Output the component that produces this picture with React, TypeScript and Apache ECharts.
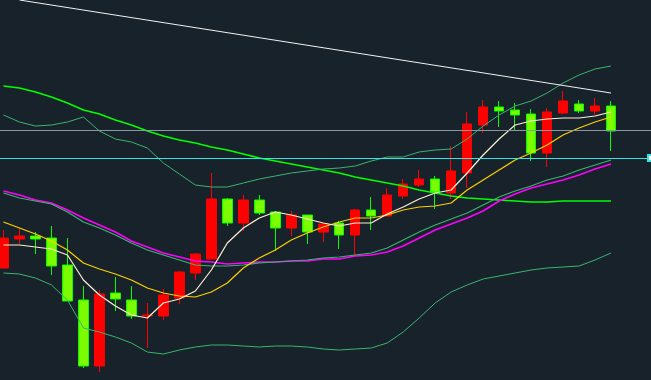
import React, { useEffect, useRef } from "react";
import * as echarts from "echarts";

// 41 trading slots (last two empty, right margin)
const days: string[] = [
  "D01","D02","D03","D04","D05","D06","D07","D08","D09","D10",
  "D11","D12","D13","D14","D15","D16","D17","D18","D19","D20",
  "D21","D22","D23","D24","D25","D26","D27","D28","D29","D30",
  "D31","D32","D33","D34","D35","D36","D37","D38","D39","D40","D41",
];

// [open, close, low, high]
const candles: number[][] = [
  [11.12, 11.42, 11.12, 11.50], [11.41, 11.44, 11.36, 11.52], [11.44, 11.41, 11.26, 11.48],
  [11.42, 11.14, 11.05, 11.54], [11.15, 10.79, 10.79, 11.42], [10.80, 10.14, 10.12, 10.94],
  [10.14, 10.86, 10.08, 10.90], [10.87, 10.81, 10.69, 11.03], [10.80, 10.64, 10.61, 10.94],
  [10.64, 10.65, 10.32, 10.77], [10.64, 10.85, 10.60, 10.91], [10.82, 11.08, 10.76, 11.09],
  [11.07, 11.26, 11.00, 11.27], [11.21, 11.81, 11.21, 12.07], [11.81, 11.57, 11.54, 11.82],
  [11.57, 11.80, 11.49, 11.85], [11.80, 11.67, 11.65, 11.85], [11.68, 11.52, 11.29, 11.69],
  [11.52, 11.65, 11.44, 11.69], [11.65, 11.48, 11.36, 11.65], [11.48, 11.56, 11.38, 11.57],
  [11.57, 11.45, 11.31, 11.59], [11.45, 11.70, 11.24, 11.71], [11.70, 11.64, 11.50, 11.83],
  [11.64, 11.85, 11.64, 11.92], [11.84, 11.96, 11.81, 12.01], [11.95, 12.01, 11.93, 12.10],
  [12.01, 11.88, 11.71, 12.04], [11.87, 12.09, 11.81, 12.34], [12.07, 12.56, 11.92, 12.68],
  [12.55, 12.73, 12.47, 12.80], [12.73, 12.69, 12.53, 12.79], [12.70, 12.65, 12.50, 12.77],
  [12.66, 12.27, 12.19, 12.71], [12.27, 12.68, 12.13, 12.72], [12.67, 12.79, 12.66, 12.89],
  [12.76, 12.69, 12.67, 12.80], [12.69, 12.74, 12.65, 12.82], [12.74, 12.49, 12.29, 12.79],
];

const ma5: number[] = [
  11.35, 11.35, 11.33, 11.31, 11.25, 11.00, 10.85, 10.74, 10.65, 10.62,
  10.77, 10.81, 10.89, 11.10, 11.37, 11.52, 11.62, 11.68, 11.65, 11.61,
  11.57, 11.54, 11.57, 11.57, 11.66, 11.73, 11.81, 11.87, 11.90, 12.07,
  12.25, 12.41, 12.55, 12.59, 12.61, 12.62, 12.62, 12.64, 12.68,
];

const ma10: number[] = [
  11.58, 11.52, 11.46, 11.39, 11.30, 11.17, 11.11, 11.06, 11.00, 10.92,
  10.87, 10.84, 10.83, 10.88, 10.97, 11.12, 11.22, 11.30, 11.40, 11.47,
  11.53, 11.58, 11.62, 11.62, 11.65, 11.70, 11.73, 11.74, 11.77, 11.90,
  12.00, 12.10, 12.20, 12.27, 12.35, 12.45, 12.52, 12.58, 12.63,
];

const ma20: number[] = [
  11.89, 11.85, 11.80, 11.77, 11.70, 11.62, 11.55, 11.48, 11.39, 11.33,
  11.27, 11.23, 11.19, 11.18, 11.16, 11.17, 11.18, 11.18, 11.19, 11.19,
  11.21, 11.21, 11.24, 11.25, 11.28, 11.34, 11.42, 11.50, 11.56, 11.62,
  11.69, 11.79, 11.86, 11.92, 11.96, 12.00, 12.05, 12.11, 12.16,
];

const bollMid: number[] = [
  11.87, 11.82, 11.79, 11.76, 11.68, 11.58, 11.52, 11.45, 11.37, 11.30,
  11.25, 11.20, 11.15, 11.14, 11.14, 11.15, 11.17, 11.18, 11.19, 11.20,
  11.22, 11.23, 11.25, 11.27, 11.32, 11.40, 11.48, 11.55, 11.61, 11.67,
  11.75, 11.83, 11.89, 11.94, 12.00, 12.04, 12.10, 12.15, 12.20,
];

const bollUpper: number[] = [
  12.65, 12.58, 12.54, 12.55, 12.58, 12.63, 12.49, 12.41, 12.38, 12.32,
  12.17, 12.06, 11.95, 11.93, 11.93, 11.97, 12.01, 12.04, 12.07, 12.09,
  12.11, 12.12, 12.14, 12.19, 12.23, 12.23, 12.28, 12.30, 12.31, 12.41,
  12.54, 12.65, 12.74, 12.79, 12.87, 12.97, 13.05, 13.11, 13.14,
];

const bollLower: number[] = [
  11.07, 11.06, 11.02, 10.95, 10.80, 10.52, 10.48, 10.43, 10.37, 10.28,
  10.26, 10.30, 10.33, 10.35, 10.35, 10.34, 10.33, 10.34, 10.34, 10.33,
  10.31, 10.30, 10.31, 10.32, 10.37, 10.48, 10.62, 10.77, 10.88, 10.95,
  11.01, 11.04, 11.07, 11.10, 11.12, 11.13, 11.14, 11.20, 11.27,
];

const ma60: number[] = [
  12.94, 12.92, 12.88, 12.83, 12.77, 12.70, 12.66, 12.60, 12.55, 12.49,
  12.44, 12.40, 12.37, 12.33, 12.30, 12.26, 12.22, 12.19, 12.16, 12.13,
  12.10, 12.07, 12.03, 12.00, 11.97, 11.94, 11.90, 11.87, 11.84, 11.82,
  11.81, 11.80, 11.79, 11.78, 11.78, 11.79, 11.79, 11.79, 11.79,
];

// trend line endpoints: [categoryIndex, price]
const trendStart: [number, number] = [1, 13.8];
const trendEnd: [number, number] = [38, 12.87];

const resistance = 12.5;
const priceLine = 12.225;

const yMin = 10.0;
const yMax = 13.8;

export default function App() {
  const ref = useRef<HTMLDivElement>(null);
  useEffect(() => {
    if (!ref.current) return;
    const chart = echarts.init(ref.current, undefined, { renderer: "svg" });
    const line = (name: string, data: number[], color: string, width: number, extra: any = {}) => ({
      name,
      type: "line",
      data,
      symbol: "none",
      silent: true,
      lineStyle: { color, width },
      z: 3,
      ...extra,
    });
    chart.setOption({
      animation: false,
      backgroundColor: "#17222a",
      grid: { left: 0.5, top: 0, width: 16 * days.length, height: 380, containLabel: false },
      xAxis: {
        type: "category",
        data: days,
        boundaryGap: true,
        show: false,
      },
      yAxis: {
        type: "value",
        min: yMin,
        max: yMax,
        show: false,
        splitLine: { show: false },
      },
      series: [
        {
          name: "K",
          type: "candlestick",
          data: candles,
          barWidth: 10,
          silent: true,
          itemStyle: {
            color: "#ff0000",
            color0: "#7cfc00",
            borderColor: "#ff0000",
            borderColor0: "#00ff00",
            borderWidth: 1,
          },
          markLine: {
            silent: true,
            symbol: ["none", "none"],
            label: { show: false },
            data: [
              { yAxis: resistance, lineStyle: { color: "#8a98a2", width: 1, type: "solid" } },
              [
                { coord: trendStart, lineStyle: { color: "#f2f2f2", width: 1, type: "solid" } },
                { coord: trendEnd },
              ],
            ],
          },
          z: 2,
        },
        line("MA60", ma60, "#00ff00", 1.6),
        line("BOLL-UP", bollUpper, "#3cb371", 1),
        line("BOLL-LOW", bollLower, "#3cb371", 1),
        line("MA20", ma20, "#ff00ff", 1.6),
        line("BOLL-MID", bollMid, "#3cb371", 1.2),
        line("MA10", ma10, "#ffd000", 1.2),
        line("MA5", ma5, "#fff0d0", 1.2, {
          markLine: {
            silent: true,
            symbol: ["none", "emptyRect"],
            symbolSize: 6,
            label: { show: false },
            lineStyle: { color: "#2fe6e6", width: 1, type: "solid" },
            data: [{ yAxis: priceLine }],
          },
        }),
      ],
    });
    return () => chart.dispose();
  }, []);
  return (
    <div
      style={{
        position: "fixed",
        left: 0,
        top: 0,
        width: 651,
        height: 380,
        overflow: "hidden",
        background: "#17222a",
      }}
    >
      <div
        ref={ref}
        style={{ position: "absolute", left: -5, top: 0, width: 656, height: 380 }}
      />
    </div>
  );
}
